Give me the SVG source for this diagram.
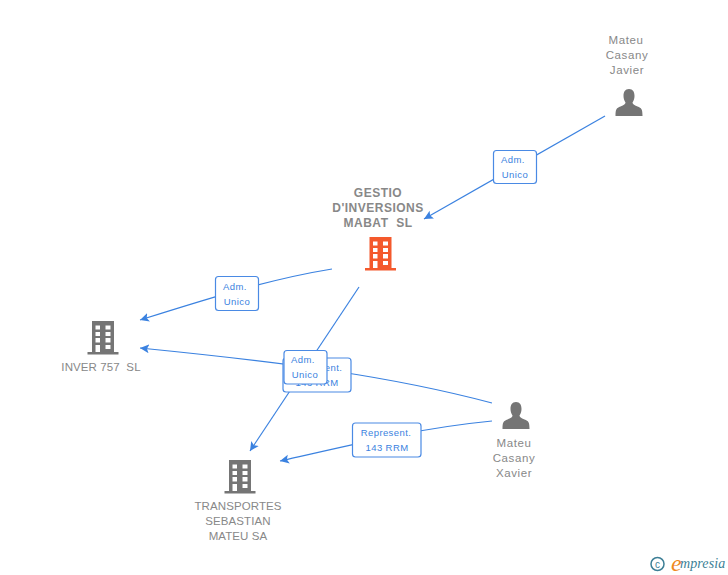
<svg xmlns="http://www.w3.org/2000/svg" width="728" height="575" viewBox="0 0 728 575">
<style>
.l{font-family:"Liberation Sans",Arial,sans-serif;font-size:11.500px;fill:#888;text-anchor:middle;letter-spacing:.1px;white-space:pre}
.m{letter-spacing:.6px}
.b{font-weight:bold;font-size:12px;letter-spacing:.5px}
.e{fill:none;stroke:#3b82e0;stroke-width:1.200}
.box{fill:#fff;stroke:#4a8ae4;stroke-width:1.200}
.t{font-family:"Liberation Sans",Arial,sans-serif;font-size:9.500px;fill:#3b82e0;text-anchor:middle;letter-spacing:.4px}
</style>
<defs>
<marker id="a" markerUnits="userSpaceOnUse" markerWidth="10" markerHeight="10" refX="9" refY="5" orient="auto"><path d="M9 5L0 .5L2 5L0 9.500Z" fill="#3b82e0"/></marker>
<g id="bld">
<path fill-rule="evenodd" d="M-11-15H11V16H-11ZM-7.500-10.500V-6.500H-3V-10.500ZM2.500-10.500V-6.500H7.500V-10.500ZM-7.500-4V0H-3V-4ZM2.500-4V0H7.500V-4ZM-7.500 2V6.500H-3V2ZM2.500 2V6.500H7.500V2ZM-7.500 9V16H-3V9ZM2.500 9V13H7.500V9Z"/>
<rect x="-15.500" y="16" width="31" height="2.500"/>
</g>
<path id="usr" d="M0-14C4-14 5.500-11 5.500-7C5.500-4 4.500-2 3.500-.5C3.500 1 5 2 8.500 3.500C12.500 5 13.500 6 13.500 13H-13.500C-13.500 6-12.500 5-8.500 3.500C-5 2-3.500 1-3.500-.5C-4.500-2-5.500-4-5.500-7C-5.500-11-4-14 0-14Z"/>
</defs>
<g id="connectors">
<path class="e" marker-end="url(#a)" d="M605 116L424 219"/>
<path class="e" marker-end="url(#a)" d="M332 269C270 279 210 298 140 320"/>
<path class="e" marker-end="url(#a)" d="M359 287L250 451"/>
<path class="e" marker-end="url(#a)" d="M492 403C390 376 290 363 140 348"/>
<path class="e" marker-end="url(#a)" d="M492 421C420 428 360 443 280 461"/>
</g>
<g id="edge-labels">
<g id="lbl-mateu-javier"><rect class="box" x="493.500" y="150.500" width="43" height="33" rx="3"/><text class="t" x="513" y="163">Adm.</text><text class="t" x="515" y="178">Unico</text></g>
<g id="lbl-gestio-inver"><rect class="box" x="215.500" y="276.500" width="43" height="34" rx="3"/><text class="t" x="235" y="290">Adm.</text><text class="t" x="237" y="305">Unico</text></g>
<g id="lbl-xavier-inver"><rect class="box" x="283" y="358" width="68" height="34" rx="3"/><text class="t" x="317" y="371">Represent.</text><text class="t" x="317" y="386">143 RRM</text></g>
<g id="lbl-gestio-transportes"><rect class="box" x="284" y="350.500" width="43" height="33.500" rx="3"/><text class="t" x="303" y="363">Adm.</text><text class="t" x="305" y="378">Unico</text></g>
<g id="lbl-xavier-transportes"><rect class="box" x="352.500" y="423" width="68.500" height="34" rx="3"/><text class="t" x="386" y="436">Represent.</text><text class="t" x="387" y="451">143 RRM</text></g>
</g>
<g id="node-javier"><text class="l m" x="626" y="44">Mateu</text><text class="l m" x="627" y="59">Casany</text><text class="l m" x="627" y="74">Javier</text><use href="#usr" x="629" y="103" fill="#757575"/></g>
<g id="node-gestio"><text class="l b" x="378" y="197">GESTIO</text><text class="l b" x="378" y="212">D'INVERSIONS</text><text class="l b" x="378" y="227">MABAT  SL</text><use href="#bld" x="380.500" y="252" fill="#f4592c"/></g>
<g id="node-inver"><use href="#bld" x="103" y="336" fill="#757575"/><text class="l" x="101" y="371">INVER 757  SL</text></g>
<g id="node-xavier"><use href="#usr" x="516" y="416" fill="#757575"/><text class="l m" x="514" y="447">Mateu</text><text class="l m" x="514" y="462">Casany</text><text class="l m" x="514" y="477">Xavier</text></g>
<g id="node-transportes"><use href="#bld" x="240" y="475" fill="#757575"/><text class="l" x="238" y="510">TRANSPORTES</text><text class="l" x="238" y="525">SEBASTIAN</text><text class="l" x="238" y="540">MATEU SA</text></g>
<g id="logo"><circle cx="657.500" cy="564" r="6.500" fill="none" stroke="#3d7f96" stroke-width="1.500"/><text x="657.500" y="567.500" font-family="Liberation Sans,sans-serif" font-size="10" fill="#3d7f96" text-anchor="middle">c</text><text x="671" y="571" font-family="Liberation Serif,serif" font-style="italic" font-size="24" fill="#ef8a1e">e</text><text x="680" y="568" font-family="Liberation Serif,serif" font-style="italic" font-size="14" fill="#3d7f96" letter-spacing=".1">mpresia</text></g>
</svg>
